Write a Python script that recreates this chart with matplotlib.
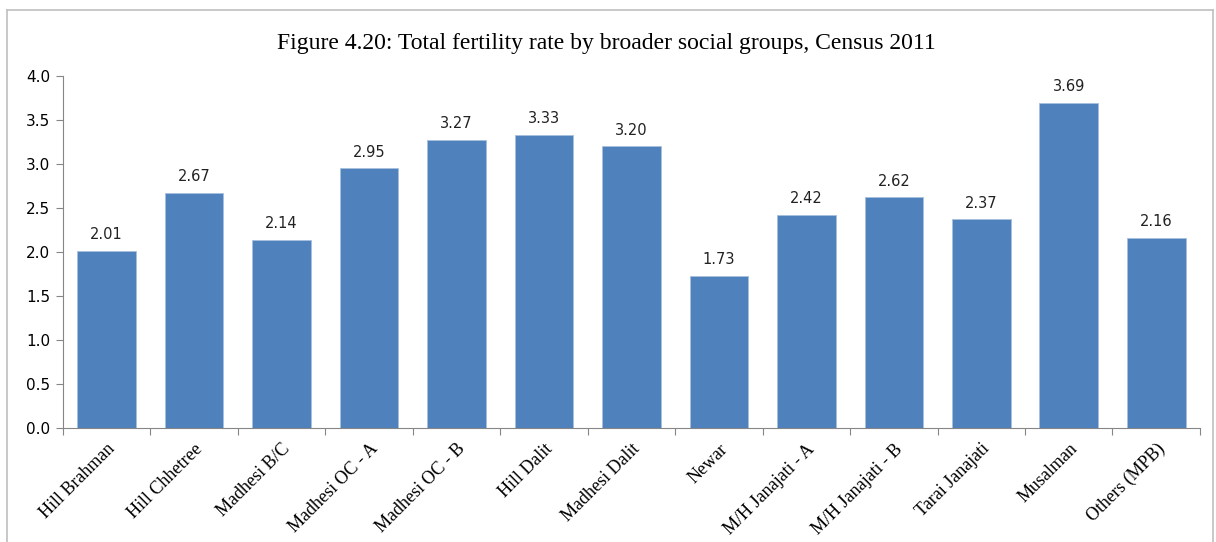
import numpy as np
import matplotlib.pyplot as plt
from matplotlib.lines import Line2D

groups = ["Hill Brahman", "Hill Chhetree", "Madhesi B/C", "Madhesi OC - A",
          "Madhesi OC - B", "Hill Dalit", "Madhesi Dalit", "Newar",
          "M/H Janajati - A", "M/H Janajati - B", "Tarai Janajati",
          "Musalman", "Others (MPB)"]
tfr = [2.01, 2.67, 2.14, 2.95, 3.27, 3.33, 3.20, 1.73, 2.42, 2.62, 2.37, 3.69, 2.16]
y_ticks = [0.0, 0.5, 1.0, 1.5, 2.0, 2.5, 3.0, 3.5, 4.0]

fig = plt.figure(figsize=(12.16, 5.42), dpi=100)
ax = fig.add_axes([0.0518, 0.2103, 0.935, 0.6495])

x = np.arange(len(groups))
ax.bar(x, tfr, width=0.67, color="#4F81BD", edgecolor="#A7C0DE", linewidth=0.6)

for xi, v in zip(x, tfr):
    ax.text(xi, v + 0.1, f"{v:.2f}", ha="center", va="bottom",
            fontsize=10.5, family="DejaVu Sans", color="#222222")

ax.set_xlim(-0.5, len(groups) - 0.5)
ax.set_ylim(0, 4.0)
ax.set_yticks(y_ticks)
ax.set_yticklabels([f"{t:.1f}" for t in y_ticks], fontsize=11, family="DejaVu Sans")

# ticks between categories, labels under bars
ax.set_xticks(np.arange(len(groups) + 1) - 0.5)
ax.set_xticklabels([])
ax.set_xticks(x, minor=True)
ax.set_xticklabels(groups, minor=True, rotation=45, ha="right",
                   rotation_mode="anchor", fontsize=13, family="Liberation Serif")
ax.tick_params(axis="x", which="minor", length=0, pad=9)
ax.tick_params(axis="x", which="major", length=5, color="#868686")
ax.tick_params(axis="y", length=5, color="#868686", pad=4)

for s in ["top", "right"]:
    ax.spines[s].set_visible(False)
for s in ["left", "bottom"]:
    ax.spines[s].set_color("#868686")

fig.text(0.499, 0.92, "Figure 4.20: Total fertility rate by broader social groups, Census 2011",
         ha="center", va="center", fontsize=17, family="Liberation Serif")

# outer chart frame
fx0, fx1, fy1 = 7 / 1216, 1213 / 1216, 1 - 10 / 542
for xs, ys in [([fx0, fx0], [0, fy1]), ([fx0, fx1], [fy1, fy1]), ([fx1, fx1], [0, fy1])]:
    fig.add_artist(Line2D(xs, ys, color="#BFBFBF", linewidth=1.2))

fig.savefig("out.png", dpi=100)
